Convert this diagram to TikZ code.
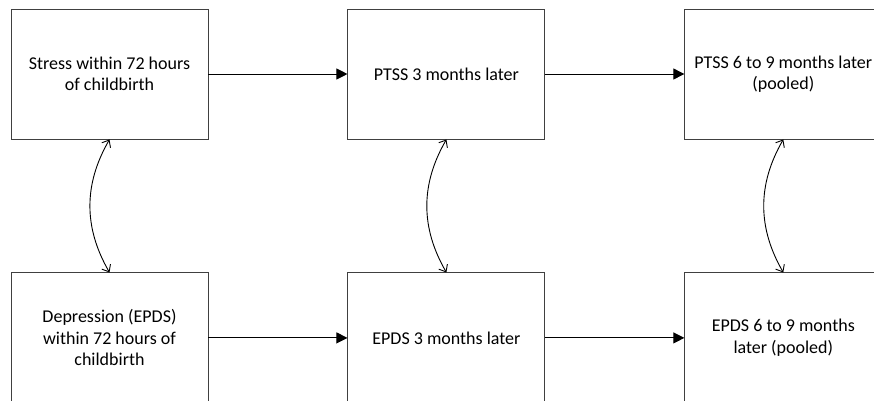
\documentclass[tikz,border=0pt]{standalone}
\usepackage{fontspec}
\setmainfont{Carlito}
\usepackage{tikz}
\usetikzlibrary{arrows.meta,positioning}

\begin{document}
\begin{tikzpicture}[
  box/.style={rectangle, draw=black!75, line width=0.9pt, fill=white,
              align=center, font=\fontsize{18pt}{21.5pt}\selectfont,
              minimum width=197pt, minimum height=130pt, inner sep=2pt},
  flow/.style={line width=0.9pt, -{Triangle[length=11pt,width=11pt]}},
  assoc/.style={line width=0.9pt, {Straight Barb[length=6pt,width=10pt]}-{Straight Barb[length=6pt,width=10pt]}}
]
  \useasboundingbox (0,0) rectangle (874pt,-400pt);

  % top row
  \node[box] (stress72) at (109.5pt,-74pt) {Stress within 72 hours\\of childbirth};
  \node[box, right=139pt of stress72] (ptss3) {PTSS 3 months later};
  \node[box, right=139pt of ptss3] (ptss69) {PTSS 6 to 9 months later\\(pooled)};

  % bottom row
  \node[box, below=133pt of stress72] (epds72) {Depression (EPDS)\\within 72 hours of\\childbirth};
  \node[box, below=133pt of ptss3] (epds3) {EPDS 3 months later};
  \node[box, below=133pt of ptss69] (epds69) {EPDS 6 to 9 months\\later (pooled)};

  \draw[flow] (stress72) -- (ptss3);
  \draw[flow] (ptss3) -- (ptss69);
  \draw[flow] (epds72) -- (epds3);
  \draw[flow] (epds3) -- (epds69);
  \draw[assoc] (stress72.south) to[bend right=30] (epds72.north);
  \draw[assoc] (ptss3.south) to[bend right=30] (epds3.north);
  \draw[assoc] (ptss69.south) to[bend right=30] (epds69.north);
\end{tikzpicture}
\end{document}
